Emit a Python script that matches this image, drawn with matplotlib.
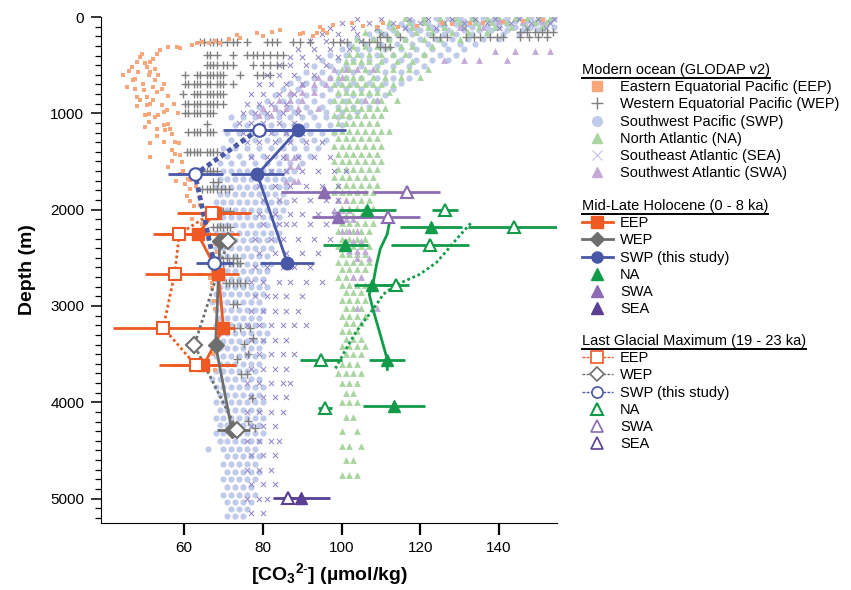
import matplotlib
matplotlib.use("Agg")
import matplotlib.pyplot as plt
from matplotlib.lines import Line2D
from matplotlib.ticker import MultipleLocator

plt.rcParams['font.family'] = ['Liberation Sans', 'DejaVu Sans']
plt.rcParams['mathtext.fontset'] = 'custom'
plt.rcParams['mathtext.rm'] = 'Liberation Sans'
plt.rcParams['mathtext.bf'] = 'Liberation Sans:bold'
plt.rcParams['mathtext.default'] = 'bf'

# ---------------- modern ocean (GLODAP v2) ----------------
eep_mod_co3 = [151.2, 146, 141, 136, 132.6, 128, 125.4, 119.1, 114.4, 110.6,
               108.9, 105.5, 102.6, 97.9, 96.2, 95.4, 94.5, 93.7, 92.8, 90.3,
               89.4, 84.4, 82.2, 80.1, 78.4, 74.2, 73.4, 71.3, 69.1, 67.9,
               66.2, 64.5, 63.2, 61.9, 59.0, 58.1, 56.0,
               53.9, 53.1, 52.2, 51.4, 50.5, 51.4, 51.0, 52.6, 52.2, 54.3, 53.1,
               49.3, 48.8, 48.0, 46.7, 48.4, 44.6, 47.1, 45.5, 47.6, 49.7,
               48.0, 50.5, 48.8, 52.2, 51.4, 50.5, 54.3, 48.0, 54.8, 55.6,
               51.0, 50.1, 53.5, 52.6, 51.0, 56.0, 54.8, 53.1, 56.4, 55.2,
               56.9, 57.7, 58.6, 51.4, 56.9, 57.7, 59.0, 51.4, 59.4, 59.8,
               59.0, 61.1, 61.5, 60.3, 61.5, 60.7, 64.1, 61.5, 62.4, 67.4,
               66.2, 67.9, 68.3, 67.4, 67.0, 66.6, 67.0, 67.6, 67.9, 68.3,
               67.4, 67.9,
               47.5, 49.5, 46.0, 50.0, 52.5, 53.5, 55.0, 56.0, 57.5, 58.5,
               50.0, 53.0, 55.0, 57.0, 56.0, 58.0, 63.0, 64.0, 62.0, 64.5]
eep_mod_depth = [31, 45, 52, 59, 66, 72, 66, 94, 101, 59,
                 101, 94, 66, 83, 170, 136, 101, 170, 198, 170,
                 177, 136, 160, 198, 170, 222, 188, 233, 267, 247,
                 274, 257, 267, 292, 326, 309, 309,
                 344, 379, 431, 465, 517, 569, 604, 656, 726, 743, 778,
                 379, 413, 465, 517, 569, 604, 656, 726, 743, 760,
                 830, 830, 865, 865, 899, 917, 917, 927, 986, 969,
                 1004, 1021, 1021, 1038, 1090, 1108, 1125, 1160, 1160, 1177,
                 1212, 1299, 1309, 1309, 1385, 1420, 1437, 1455, 1507, 1594,
                 1628, 1680, 1690, 1732, 1785, 1854, 1871, 1906, 1958, 1993,
                 2253, 2358, 2444, 2635, 2757, 2705, 2809, 2948, 3035, 3156,
                 3503, 3660,
                 640, 700, 560, 480, 540, 600, 700, 820, 900, 1000,
                 1140, 1240, 1300, 1500, 1560, 1700, 1750, 1950, 2100, 2150]

# sampling depths and the CO3 values found at each depth
wep_mod_levels = [153, 205, 257, 309, 396, 500, 604, 691, 795, 899, 997, 1108,
                  1194, 1403, 1601, 1715, 1785, 2010, 2184, 2288, 2497, 2550,
                  2757, 2975, 3226, 3330, 3399, 3503, 3555, 3705, 3955, 4198, 4267]
wep_mod_co3 = [[145.3, 147, 149, 151, 152.1, 153.7],
               [109.8, 111.5, 114.8, 123.3, 125, 126.7, 131.7, 133.5, 135.1, 137.7,
                139.5, 141.1, 145.3, 147.5, 150, 152.1],
               [64.1, 65, 66.6, 67.4, 68.3, 69.5, 70.8, 72.5, 73.4, 75.9, 81.0, 82.2,
                83.5, 87.7, 89.4, 92.0, 97.9, 99.5, 101.3, 105.5, 107, 108.9],
               [109.8, 111, 112.3],
               [65.7, 66.6, 68.3, 72.5, 75.9, 77.6, 78.4, 80.1, 81.8, 83.5, 85.2],
               [65.7, 66.6, 67.4, 68.3, 70.0, 70.8, 72.5, 77.6, 80.1, 81.8, 83.5, 85.2],
               [60.3, 63.2, 64.1, 65.7, 66.6, 67.4, 68.3, 69.1, 70.0, 74.2, 78.4, 80.1, 81.8],
               [60.3, 61.1, 62.4, 63.2, 64.1, 65.7, 66.6, 68.3, 69.1, 70.0, 72.5],
               [59.8, 62.4, 63.2, 64.1, 65.7, 66.6, 67.4, 68.3, 69.1, 70.0],
               [60.3, 61.1, 62.4, 63.2, 64.1, 65.7, 66.6, 67.4, 68.3, 70.0],
               [60.3, 61.1, 62.4, 63.2, 64.1, 65.7, 66.6, 67.4],
               [65.7],
               [61.1, 62.4, 63.2, 64.1, 65.7, 66.6, 67.4],
               [60.7, 61.5, 62.4, 63.2, 64.1, 65.7, 66.6, 67.4, 68.3],
               [63.6, 64.5, 65.7, 66.6, 67.4, 68.3],
               [67.4, 68.7],
               [64.5, 65.7, 66.6, 67.4, 68.3, 69.5, 70.4, 71.3],
               [66.2, 67.4, 68.3, 69.1, 70.0, 71.7],
               [67.4, 68.3, 69.1, 70.0, 70.8, 71.7],
               [70.0],
               [70.8, 72.5, 73.4],
               [69.1, 70.0, 71.3, 72.5, 73.4, 74.2],
               [70.6, 71.3, 72.5, 73.4, 74.2, 75.5],
               [72.5, 73.4],
               [72.8, 74.2, 76.7],
               [77.6], [75.1], [76.3], [73.4],
               [74.5, 75.9], [77.2], [76.3], [78.0]]

swp_mod_levels = [15, 40, 70, 100, 140, 180, 230, 280, 330, 390, 450, 510, 570,
                  630, 690, 750, 810, 870, 930, 990,
                  1040, 1120, 1200, 1280, 1360, 1440, 1520, 1600, 1680, 1760,
                  1840, 1920, 2000, 2080, 2160, 2240, 2320, 2400, 2480, 2560,
                  2640, 2720, 2800, 2880, 2960, 3040, 3120, 3200, 3280, 3360,
                  3440, 3520, 3600, 3680, 3760, 3840, 3920, 4000, 4080, 4160,
                  4240, 4320, 4400, 4480, 4560, 4640, 4720, 4800, 4880, 4960,
                  5040, 5110, 5180]
swp_mod_co3 = [[121, 124, 127, 130, 133, 136, 139, 142, 145, 148, 151, 154],
               [118, 121, 125, 128, 131, 134, 138, 141, 144, 147, 150, 153],
               [115, 118, 122, 125, 129, 132, 135, 139, 142, 146, 149, 152],
               [112, 116, 119, 123, 126, 130, 133, 137, 140, 144, 148, 151, 154],
               [109, 113, 117, 120, 124, 127, 131, 135, 138, 142, 146, 150],
               [107, 111, 114, 118, 122, 126, 129, 133, 137, 141, 145],
               [104, 108, 112, 116, 120, 124, 128, 132, 136, 140],
               [102, 106, 110, 114, 118, 122, 126, 130, 134],
               [100, 104, 107, 111, 115, 119, 123, 127, 131],
               [97, 101, 105, 109, 113, 117, 121, 125, 129],
               [95, 99, 103, 107, 111, 115, 119, 123, 127],
               [93, 97, 101, 105, 109, 113, 117, 121],
               [91, 95, 99, 103, 107, 111, 115, 119],
               [89, 93, 97, 101, 105, 109, 113, 117],
               [87, 91, 95, 99, 103, 107, 111, 115],
               [85, 89, 93, 97, 101, 105, 109, 113],
               [83, 87, 91, 95, 99, 103, 107, 111],
               [81, 85, 89, 93, 97, 101, 105, 109],
               [79, 83, 87, 91, 95, 99, 103, 107],
               [77, 80, 84, 88, 92, 96, 100, 104],
               [72, 75, 78, 81, 84, 87, 90, 93, 96, 99, 102],
               [73, 76, 79, 82, 85, 88, 91, 94, 97, 100],
               [71, 74, 77, 80, 83, 86, 89, 92, 95, 98],
               [72, 75, 78, 81, 84, 87, 90, 93, 96],
               [70, 73, 76, 79, 82, 85, 88, 91, 94],
               [71, 74, 77, 80, 83, 86, 89, 92],
               [69, 72, 75, 78, 81, 84, 87, 90],
               [70, 72, 74, 76, 78, 80, 82, 84, 86, 88],
               [69, 71, 73, 75, 77, 79, 81, 83, 85, 87],
               [68, 70, 72, 74, 76, 78, 80, 82, 84, 86],
               [69, 71, 73, 75, 77, 79, 81, 83, 85],
               [68, 70, 72, 74, 76, 78, 80, 82, 84, 86],
               [69, 71, 73, 75, 77, 79, 81, 83, 85],
               [68, 70, 72, 74, 76, 78, 80, 82, 84],
               [69, 71, 73, 75, 77, 79, 81, 83],
               [68, 70, 72, 74, 76, 78, 80, 82, 84],
               [69, 71, 73, 75, 77, 79, 81, 83],
               [68, 70, 72, 74, 76, 78, 80, 82],
               [69, 71, 73, 75, 77, 79, 81],
               [68, 70, 72, 74, 76, 78, 80, 82],
               [69, 71, 73, 75, 77, 79, 81],
               [68, 70, 72, 74, 76, 78, 80],
               [69, 71, 73, 75, 77, 79, 81],
               [68, 70, 72, 74, 76, 78, 80],
               [67, 69, 71, 73, 75, 77, 79],
               [68, 70, 72, 74, 76, 78, 80],
               [69, 71, 73, 75, 77, 79],
               [68, 70, 72, 74, 76, 78, 80],
               [69, 71, 73, 75, 77, 79, 81],
               [68, 70, 72, 74, 76, 78, 80],
               [69, 71, 73, 75, 77, 79],
               [68, 70, 72, 74, 76, 78, 80],
               [69, 71, 73, 75, 77, 79],
               [68, 70, 72, 74, 76, 78],
               [67, 69, 71, 73, 75, 77, 79],
               [68, 70, 72, 74, 76, 78, 80],
               [69, 71, 73, 75, 77, 79],
               [68, 70, 72, 74, 76, 78, 80],
               [69, 71, 73, 75, 77, 79],
               [68, 70, 72, 74, 76, 78, 80],
               [69, 71, 73, 75, 77, 79],
               [68, 70, 72, 74, 76, 78, 80],
               [69, 71, 73, 75, 77, 79],
               [66, 70, 72, 74, 76, 78],
               [71, 73, 75, 77, 79],
               [70, 72, 74, 76, 78],
               [71, 73, 75, 77, 79],
               [70, 72, 74, 76, 78],
               [71, 73, 75, 77],
               [70, 72, 74, 76, 78],
               [71, 73, 75, 77],
               [72, 74, 76],
               [71, 73, 75]]

na_mod_levels = [15, 50, 100, 160, 230, 300, 380, 460, 540, 620, 700, 780, 860,
                 940, 1020, 1100, 1180, 1260, 1340, 1420, 1500, 1580, 1660, 1740,
                 1820, 1900, 1980, 2060, 2140, 2220, 2300, 2380, 2460, 2540, 2620,
                 2700, 2780, 2860, 2940, 3020, 3100, 3180, 3260, 3340, 3420, 3500,
                 3600, 3700, 3800, 3900, 4000, 4150, 4300, 4450, 4600, 4750]
na_mod_co3 = [[116, 121, 125, 129, 133, 137, 140, 144, 147, 150, 153],
              [112, 117, 121, 126, 130, 134, 138, 142, 146, 149, 152],
              [109, 113, 118, 122, 126, 131, 135, 139, 143, 147, 151],
              [106, 110, 114, 119, 123, 128, 132, 137],
              [104, 108, 112, 116, 121, 125, 130],
              [103, 106, 109, 112, 115, 118, 123],
              [102, 104, 107, 110, 113, 116, 121],
              [101, 103, 105, 107, 110, 114, 118],
              [100, 102, 104, 106, 109, 113, 117, 122],
              [99, 101, 103, 105, 108, 111, 115, 120],
              [98, 100, 102, 104, 106, 108, 110, 113],
              [99, 101, 103, 105, 107, 109, 112],
              [98, 100, 102, 104, 106, 108, 110, 114],
              [99, 101, 103, 105, 107, 109, 111],
              [98, 100, 102, 104, 106, 108, 110],
              [99, 101, 103, 105, 107, 109],
              [98, 100, 102, 104, 106, 108, 110, 112],
              [99, 101, 103, 105, 107, 109],
              [98, 100, 102, 104, 106, 108, 110],
              [99, 101, 103, 105, 107, 109],
              [98, 100, 102, 104, 106, 108, 110],
              [99, 101, 103, 105, 107, 109],
              [98, 100, 102, 104, 106, 108],
              [99, 101, 103, 105, 107, 109],
              [98, 100, 102, 104, 106, 108],
              [99, 101, 103, 105, 107],
              [100, 102, 104, 106, 108],
              [99, 101, 103, 105, 107],
              [100, 102, 104, 106, 108],
              [99, 101, 103, 105, 107],
              [100, 102, 104, 106],
              [99, 101, 103, 105, 107],
              [100, 102, 104, 106],
              [99, 101, 103, 105, 107],
              [100, 102, 104, 106],
              [99, 101, 103, 105],
              [100, 102, 104, 106],
              [101, 103, 105],
              [100, 102, 104, 106],
              [101, 103, 105],
              [100, 102, 104, 106],
              [101, 103, 105],
              [100, 102, 104],
              [101, 103, 105],
              [100, 102, 104, 106],
              [101, 103, 105],
              [100, 102, 104],
              [99, 101, 103, 105],
              [100, 102, 104],
              [101, 103],
              [100, 102, 104],
              [101, 103],
              [100, 104],
              [100, 102, 105],
              [101, 103],
              [100, 102, 104]]

sea_mod_levels = [25, 60, 110, 180, 250, 330, 420, 500, 600, 700, 800, 900,
                  1000, 1100, 1200, 1300, 1450, 1600, 1750, 1900, 2050, 2150,
                  2300, 2450, 2600, 2750, 2900, 3050, 3200, 3350, 3500, 3650,
                  3800, 3950, 4100, 4250, 4400, 4550, 4700, 4850, 5000, 5150]
sea_mod_co3 = [[104, 110, 117, 122, 128, 134, 139, 145, 150, 154],
               [100, 107, 113, 120, 126, 131, 137, 143, 148, 153],
               [97, 103, 109, 116, 124, 131, 140, 147, 152],
               [95, 99, 104, 110],
               [92, 96, 100, 105],
               [89, 93, 97, 102],
               [87, 90, 94, 99],
               [84, 87, 91, 96],
               [81, 84, 88, 93],
               [79, 82, 86, 90],
               [77, 80, 84, 88],
               [76, 79, 82, 86],
               [75, 78, 81, 85, 89],
               [74, 77, 80, 84, 88],
               [75, 78, 82, 86, 90],
               [76, 79, 83, 87, 91, 95],
               [77, 81, 85, 89, 93, 97],
               [78, 82, 86, 90, 94, 98, 101],
               [79, 83, 87, 91, 95, 99],
               [80, 84, 88, 92, 96, 99],
               [79, 83, 87, 90, 94, 98],
               [80, 84, 86, 88, 92, 96],
               [78, 82, 85, 89, 93, 97],
               [79, 83, 86, 90, 94],
               [78, 81, 85, 88, 92],
               [77, 80, 84, 87, 91, 95],
               [78, 81, 83, 86, 90],
               [77, 80, 83, 86, 89],
               [76, 79, 82, 85, 88, 91],
               [77, 80, 83, 86],
               [76, 79, 82, 85, 88],
               [77, 80, 83, 86],
               [76, 79, 82, 85, 87],
               [77, 80, 83, 86],
               [76, 79, 82, 85],
               [77, 80, 83],
               [76, 79, 82, 84],
               [77, 80, 83],
               [76, 79, 82],
               [77, 80, 83],
               [76, 79, 81],
               [77, 80]]

swa_mod_levels = [40, 100, 350, 450, 540, 620, 700, 780, 860, 940, 1020, 1450,
                  1550, 1700, 1900, 2000, 2100, 2220, 2330, 2430, 2500, 2700, 3020]
swa_mod_co3 = [[140, 146, 151], [130, 136], [139, 144, 149, 153],
               [126, 131, 135, 142], [98, 101, 104, 108], [94, 97, 100],
               [90, 93, 96], [87, 90, 93], [84, 87, 90, 106, 109],
               [80, 83, 86, 89, 94], [79, 82], [86, 88], [87, 89],
               [86, 88, 89], [99, 101], [98, 100, 102], [99, 101, 103],
               [100, 102, 104], [101, 103, 105], [102, 104, 106],
               [104, 107], [103, 105], [104, 109]]

# ---------------- sediment cores ----------------
eep_depth = [2030, 2253, 2663, 3226, 3618]
eep_hol = [67.8, 63.5, 68.7, 70.0, 64.9]
eep_hol_err = [9.1, 10.5, 5.3, 3.0, 8.3]
eep_lgm = [67.2, 58.8, 57.6, 54.7, 63.0]
eep_lgm_err = [9.1, 6.7, 7.5, 12.7, 9.3]

wep_depth = [2323, 3406, 4284]
wep_hol = [69.1, 68.0, 72.1]
wep_hol_err = [1.5, 1.5, 3.8]
wep_lgm = [71.2, 62.6, 73.4]
wep_lgm_err = [1.5, 1.5, 3.4]

swp_depth = [1170, 1635, 2552]
swp_hol = [88.9, 78.6, 86.2]
swp_hol_err = [12.3, 6.7, 6.8]
swp_lgm = [78.9, 62.8, 67.6]
swp_lgm_err = [8.9, 7.0, 4.7]

na_hol_depth = [2003, 2184, 2365, 2785, 3556, 4042]
na_hol = [106.5, 122.8, 100.9, 107.8, 111.6, 113.3]
na_hol_err = [7.2, 7.9, 5.7, 4.7, 4.6, 7.9]
na_lgm_depth = [2003, 2184, 2365, 2785, 3556, 4059]
na_lgm = [126.3, 143.9, 122.4, 113.7, 94.8, 95.8]
na_lgm_err = [3.3, 11.7, 9.9, 3.5, 5.3, 1.8]
na_hol_curve_depth = [2142, 2253, 2409, 2566, 2784, 2878, 3052, 3295, 3555, 3659]
na_hol_curve = [112.1, 111.6, 109.8, 108.9, 107.9, 107.0, 108.1, 109.8, 111.6, 111.6]
na_lgm_curve_depth = [2142, 2191, 2305, 2427, 2548, 2670, 2784, 2878, 2982, 3121,
                      3260, 3433, 3659]
na_lgm_curve = [132.8, 131.7, 129.2, 126.7, 124.1, 119.9, 113.7, 110.6, 108.9, 106.4,
                103.8, 101.3, 98.3]

swa_depth = [1819, 2080]
swa_hol = [95.6, 99.0]
swa_hol_err = [11.0, 6.6]
swa_lgm = [116.5, 111.9]
swa_lgm_err = [8.4, 8.0]

sea_depth = [4990]
sea_hol = [89.8]
sea_hol_err = [7.3]
sea_lgm = [86.3]
sea_lgm_err = [1.5]

EEP_L, EEP = '#F9A67B', '#EF5A24'
WEP_L, WEP = '#7F7F7F', '#6E6E6E'
SWP_L, SWP = '#BFCBE8', '#4858A7'
NA_L, NA = '#A9D6A0', '#129B48'
SEA_L, SEA = '#8E80C6', '#5A3F94'
SWA_L, SWA = '#C4ABD7', '#8B6CB3'


def unroll(levels, rows):
    d, x = [], []
    for lev, vals in zip(levels, rows):
        d += [lev] * len(vals)
        x += vals
    return x, d


fig = plt.figure(figsize=(8.51, 5.90), dpi=100)
ax = fig.add_axes([101 / 851, 1 - 522.7 / 590, 456 / 851, 505.7 / 590])

# modern clouds
x, d = unroll(swp_mod_levels, swp_mod_co3)
ax.scatter(x, d, s=20, marker='o', color=SWP_L, linewidths=0, zorder=1)
x, d = unroll(na_mod_levels, na_mod_co3)
ax.scatter(x, d, s=24, marker='^', color=NA_L, linewidths=0, zorder=1.1)
x, d = unroll(swa_mod_levels, swa_mod_co3)
ax.scatter(x, d, s=24, marker='^', color=SWA_L, linewidths=0, zorder=1.2)
x, d = unroll(sea_mod_levels, sea_mod_co3)
ax.scatter(x, d, s=14, marker='x', color=SEA_L, linewidths=0.7, zorder=1.3)
x, d = unroll(wep_mod_levels, wep_mod_co3)
ax.scatter(x, d, s=36, marker='+', color=WEP_L, linewidths=1.0, zorder=1.4)
ax.scatter(eep_mod_co3, eep_mod_depth, s=11, marker='s', color=EEP_L, linewidths=0, zorder=1.5)

# error bars
for xs, ds, es, c in [(eep_hol, eep_depth, eep_hol_err, EEP), (eep_lgm, eep_depth, eep_lgm_err, EEP),
                      (wep_hol, wep_depth, wep_hol_err, WEP), (wep_lgm, wep_depth, wep_lgm_err, WEP),
                      (swp_hol, swp_depth, swp_hol_err, SWP), (swp_lgm, swp_depth, swp_lgm_err, SWP),
                      (na_hol, na_hol_depth, na_hol_err, NA), (na_lgm, na_lgm_depth, na_lgm_err, NA),
                      (swa_hol, swa_depth, swa_hol_err, SWA), (swa_lgm, swa_depth, swa_lgm_err, SWA),
                      (sea_hol, sea_depth, sea_hol_err, SEA), (sea_lgm, sea_depth, sea_lgm_err, SEA)]:
    ax.errorbar(xs, ds, xerr=es, fmt='none', ecolor=c, elinewidth=2.0, capsize=0, zorder=3)

# connecting lines
ax.plot(eep_hol, eep_depth, '-', color=EEP, lw=2.0, zorder=4)
ax.plot(wep_hol, wep_depth, '-', color=WEP, lw=2.0, zorder=4)
ax.plot(swp_hol, swp_depth, '-', color=SWP, lw=2.0, zorder=4)
ax.plot(eep_lgm, eep_depth, ls=(0, (1, 1)), color=EEP, lw=2.0, zorder=4)
ax.plot(wep_lgm, wep_depth, ls=(0, (1, 1)), color=WEP, lw=2.0, zorder=4)
ax.plot(swp_lgm, swp_depth, ls=(0, (1, 0.7)), color=SWP, lw=3.5, zorder=4)
ax.plot(na_hol_curve, na_hol_curve_depth, '-', color=NA, lw=2.0, zorder=4)
ax.plot(na_lgm_curve, na_lgm_curve_depth, ls=(0, (1, 1)), color=NA, lw=2.0, zorder=4)

# markers
hol = [(eep_hol, eep_depth, EEP, 's', 9), (wep_hol, wep_depth, WEP, 'D', 8.5),
       (swp_hol, swp_depth, SWP, 'o', 9), (na_hol, na_hol_depth, NA, '^', 8.5),
       (swa_hol, swa_depth, SWA, '^', 9), (sea_hol, sea_depth, SEA, '^', 9)]
lgm = [(eep_lgm, eep_depth, EEP, 's', 9), (wep_lgm, wep_depth, WEP, 'D', 8.5),
       (swp_lgm, swp_depth, SWP, 'o', 9), (na_lgm, na_lgm_depth, NA, '^', 8.5),
       (swa_lgm, swa_depth, SWA, '^', 9), (sea_lgm, sea_depth, SEA, '^', 9)]
for xs, ds, c, m, ms in hol:
    ax.plot(xs, ds, ls='none', marker=m, ms=ms, mfc=c, mec=c, zorder=5)
for xs, ds, c, m, ms in lgm:
    ax.plot(xs, ds, ls='none', marker=m, ms=ms, mfc='white', mec=c, mew=1.5, zorder=6)

ax.set_xlim(38.9, 154.7)
ax.set_ylim(5250, 0)
ax.spines['top'].set_visible(False)
ax.spines['right'].set_visible(False)
ax.set_xticks([60, 80, 100, 120, 140])
ax.yaxis.set_major_locator(MultipleLocator(1000))
ax.yaxis.set_minor_locator(MultipleLocator(100))
ax.tick_params(axis='x', length=8.5, width=1.6, labelsize=11, pad=5)
ax.tick_params(axis='y', which='major', length=7, width=1.1, labelsize=11, pad=5)
ax.tick_params(axis='y', which='minor', length=4, width=0.9)
ax.set_ylabel('Depth (m)', fontsize=14, fontweight='bold', labelpad=10)
ax.set_xlabel(r'[CO$_3$$^{2\text{-}}$] (µmol/kg)', fontsize=14, fontweight='bold', labelpad=4)

# legends
modern_handles = [Line2D([], [], ls='none', marker='s', ms=7, color=EEP_L),
                  Line2D([], [], ls='none', marker='+', ms=9, mew=1, color=WEP_L),
                  Line2D([], [], ls='none', marker='o', ms=7, color=SWP_L),
                  Line2D([], [], ls='none', marker='^', ms=7, color=NA_L),
                  Line2D([], [], ls='none', marker='x', ms=7, mew=0.8, color='#C8C0E4'),
                  Line2D([], [], ls='none', marker='^', ms=7, color=SWA_L)]
modern_labels = ['Eastern Equatorial Pacific (EEP)', 'Western Equatorial Pacific (WEP)',
                 'Southwest Pacific (SWP)', 'North Atlantic (NA)',
                 'Southeast Atlantic (SEA)', 'Southwest Atlantic (SWA)']
hol_handles = [Line2D([], [], color=EEP, lw=2, marker='s', ms=8),
               Line2D([], [], color=WEP, lw=2, marker='D', ms=7.5),
               Line2D([], [], color=SWP, lw=2, marker='o', ms=8),
               Line2D([], [], ls='none', marker='^', ms=8, color=NA),
               Line2D([], [], ls='none', marker='^', ms=8, color=SWA),
               Line2D([], [], ls='none', marker='^', ms=8, color=SEA)]
hol_labels = ['EEP', 'WEP', 'SWP (this study)', 'NA', 'SWA', 'SEA']
lgm_handles = [Line2D([], [], color=EEP, lw=1, ls=(0, (2, 1)), marker='s', ms=8, mfc='white', mew=1.2),
               Line2D([], [], color=WEP, lw=1, ls=(0, (2, 1)), marker='D', ms=7.5, mfc='white', mew=1.2),
               Line2D([], [], color=SWP, lw=1, ls=(0, (2, 1)), marker='o', ms=8, mfc='white', mew=1.2),
               Line2D([], [], ls='none', marker='^', ms=8, color=NA, mfc='white', mew=1.5),
               Line2D([], [], ls='none', marker='^', ms=8, color=SWA, mfc='white', mew=1.2),
               Line2D([], [], ls='none', marker='^', ms=8, color=SEA, mfc='white', mew=1.2)]

legends = []
for handles, labels, title, top in [(modern_handles, modern_labels, 'Modern ocean (GLODAP v2)', 63),
                                    (hol_handles, hol_labels, 'Mid-Late Holocene (0 - 8 ka)', 199),
                                    (lgm_handles, hol_labels, 'Last Glacial Maximum (19 - 23 ka)', 334)]:
    lg = fig.legend(handles, labels, loc='upper left', bbox_to_anchor=(582 / 851, 1 - top / 590),
                    frameon=False, title=title, alignment='left', fontsize=10.5,
                    title_fontsize=10.5, handlelength=2.1, handletextpad=0.5,
                    labelspacing=0.22, borderpad=0, borderaxespad=0)
    legends.append(lg)

fig.canvas.draw()
inv = fig.transFigure.inverted()
for lg in legends:
    bb = lg.get_title().get_window_extent()
    (x0, y0), (x1, _) = inv.transform([(bb.x0, bb.y0 - 0.5), (bb.x1, bb.y0)])
    fig.add_artist(Line2D([x0, x1], [y0, y0], transform=fig.transFigure, color='black', lw=1.4))

fig.savefig('out.png', dpi=100)
